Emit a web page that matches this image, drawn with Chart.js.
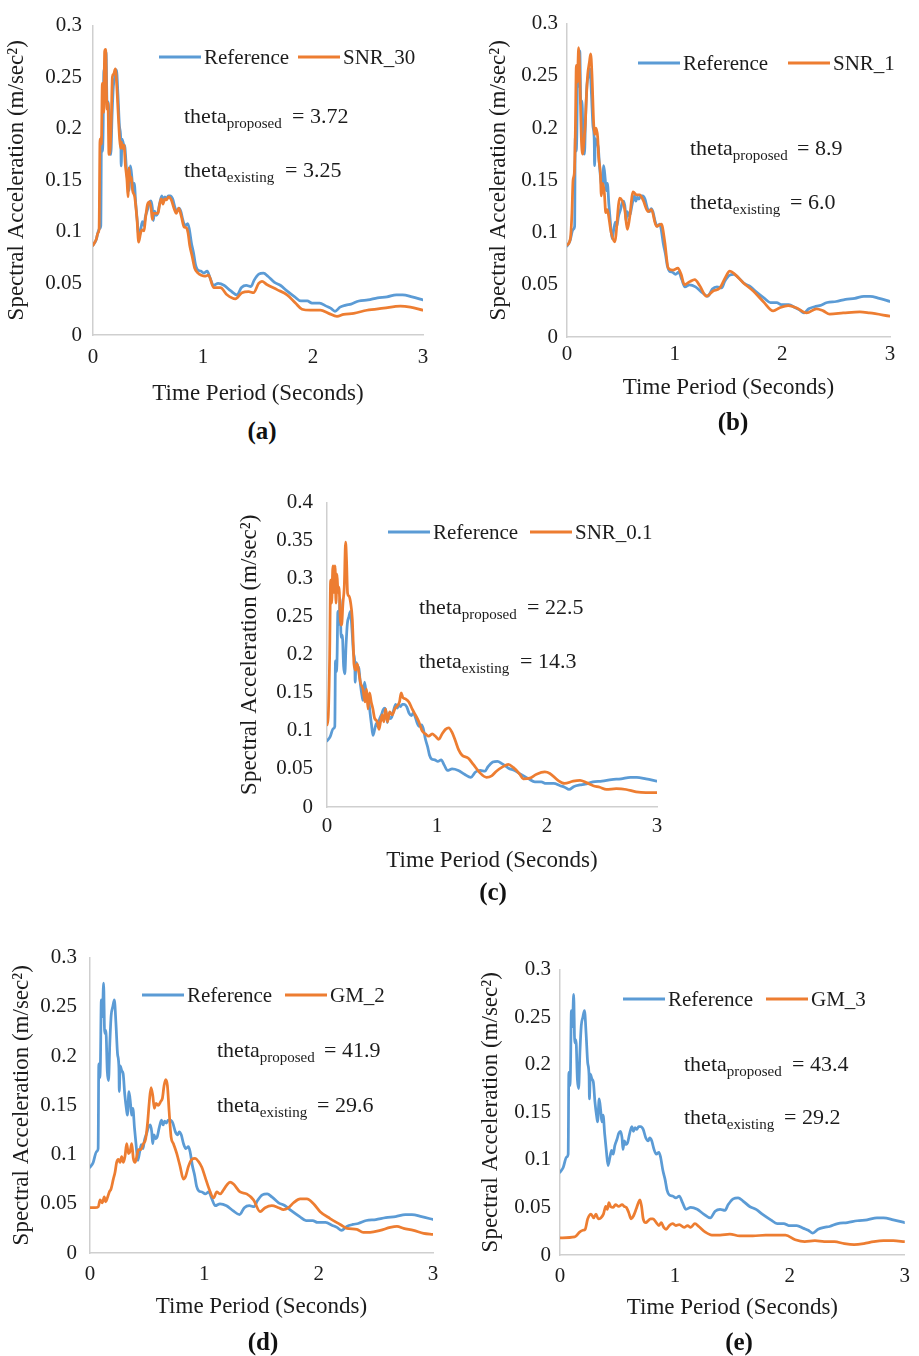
<!DOCTYPE html>
<html>
<head>
<meta charset="utf-8">
<script src="https://cdn.jsdelivr.net/npm/chart.js@4.4.0/dist/chart.umd.min.js"></script>
<style>
   body { margin: 0; background: #fff; width: 919px; height: 1356px; position: relative; overflow: hidden; font-family: 'Liberation Serif', 'Times New Roman', serif; }
   canvas.panel { position: absolute; }
   .caption { position: absolute; font-size: 25px; font-weight: bold; line-height: 30px; color: #111; transform: translateX(-50%); white-space: nowrap; }
</style>
</head>
<body>
<canvas id="chartA" class="panel"></canvas>
<canvas id="chartB" class="panel"></canvas>
<canvas id="chartC" class="panel"></canvas>
<canvas id="chartD" class="panel"></canvas>
<canvas id="chartE" class="panel"></canvas>
<div class="caption" style="left:262px; top:416px;">(a)</div>
<div class="caption" style="left:733px; top:407px;">(b)</div>
<div class="caption" style="left:493px; top:877px;">(c)</div>
<div class="caption" style="left:263px; top:1327px;">(d)</div>
<div class="caption" style="left:739px; top:1327px;">(e)</div>
<script>
// Reference response spectrum (shared by all panels)
const refPeriod = [0, 0.028, 0.057, 0.071, 0.077, 0.085, 0.091, 0.099, 0.108, 0.119, 0.128, 0.139, 0.151, 0.162, 0.173, 0.185, 0.199, 0.213, 0.227, 0.241, 0.253, 0.256, 0.264, 0.278, 0.29, 0.304, 0.321, 0.327, 0.341, 0.355, 0.364, 0.375, 0.389, 0.403, 0.418, 0.435, 0.449, 0.463, 0.477, 0.497, 0.511, 0.526, 0.54, 0.548, 0.56, 0.574, 0.588, 0.605, 0.625, 0.639, 0.653, 0.668, 0.685, 0.702, 0.724, 0.747, 0.767, 0.781, 0.798, 0.818, 0.838, 0.861, 0.875, 0.895, 0.915, 0.932, 0.952, 0.98, 1.008, 1.038, 1.066, 1.095, 1.137, 1.194, 1.25, 1.308, 1.35, 1.393, 1.436, 1.464, 1.507, 1.55, 1.59, 1.65, 1.706, 1.76, 1.834, 1.89, 1.948, 1.99, 2.06, 2.12, 2.16, 2.2, 2.246, 2.3, 2.346, 2.417, 2.5, 2.587, 2.673, 2.758, 2.815, 2.9, 3.0];
const refSA = [0.087, 0.092, 0.103, 0.106, 0.192, 0.178, 0.192, 0.257, 0.24, 0.274, 0.223, 0.226, 0.185, 0.175, 0.212, 0.241, 0.25, 0.257, 0.233, 0.202, 0.188, 0.164, 0.19, 0.185, 0.182, 0.161, 0.144, 0.14, 0.164, 0.151, 0.14, 0.147, 0.127, 0.11, 0.094, 0.103, 0.11, 0.106, 0.115, 0.122, 0.128, 0.13, 0.123, 0.111, 0.12, 0.116, 0.118, 0.127, 0.135, 0.13, 0.134, 0.132, 0.135, 0.135, 0.132, 0.123, 0.12, 0.123, 0.12, 0.111, 0.106, 0.108, 0.103, 0.089, 0.079, 0.068, 0.063, 0.062, 0.06, 0.062, 0.055, 0.048, 0.05, 0.048, 0.043, 0.039, 0.046, 0.048, 0.047, 0.053, 0.059, 0.06, 0.057, 0.051, 0.048, 0.043, 0.037, 0.033, 0.033, 0.031, 0.031, 0.028, 0.026, 0.023, 0.027, 0.029, 0.03, 0.033, 0.034, 0.036, 0.037, 0.039, 0.039, 0.037, 0.034];

// SNR_30
const snr30Period = [0, 0.03, 0.045, 0.055, 0.064, 0.076, 0.085, 0.097, 0.106, 0.115, 0.127, 0.136, 0.145, 0.158, 0.167, 0.176, 0.188, 0.203, 0.215, 0.227, 0.242, 0.252, 0.258, 0.27, 0.282, 0.294, 0.309, 0.318, 0.327, 0.339, 0.348, 0.36, 0.379, 0.4, 0.415, 0.433, 0.448, 0.464, 0.476, 0.494, 0.515, 0.53, 0.539, 0.548, 0.57, 0.591, 0.606, 0.621, 0.636, 0.652, 0.667, 0.688, 0.712, 0.736, 0.758, 0.779, 0.803, 0.827, 0.848, 0.864, 0.879, 0.9, 0.924, 0.955, 0.985, 1.015, 1.05, 1.097, 1.158, 1.218, 1.294, 1.355, 1.415, 1.46, 1.506, 1.536, 1.58, 1.673, 1.764, 1.84, 1.9, 1.976, 2.067, 2.142, 2.218, 2.279, 2.37, 2.49, 2.642, 2.794, 2.885, 3.0];
const snr30SA = [0.087, 0.093, 0.099, 0.102, 0.19, 0.185, 0.244, 0.216, 0.275, 0.277, 0.219, 0.225, 0.175, 0.184, 0.212, 0.25, 0.253, 0.258, 0.244, 0.219, 0.19, 0.181, 0.187, 0.181, 0.184, 0.165, 0.15, 0.134, 0.162, 0.15, 0.153, 0.14, 0.134, 0.112, 0.09, 0.099, 0.102, 0.101, 0.112, 0.126, 0.129, 0.121, 0.112, 0.118, 0.118, 0.118, 0.127, 0.132, 0.127, 0.132, 0.131, 0.134, 0.131, 0.123, 0.118, 0.123, 0.115, 0.105, 0.104, 0.099, 0.087, 0.077, 0.065, 0.06, 0.058, 0.057, 0.058, 0.046, 0.046, 0.039, 0.035, 0.041, 0.042, 0.041, 0.05, 0.052, 0.049, 0.044, 0.039, 0.031, 0.025, 0.024, 0.024, 0.021, 0.018, 0.02, 0.021, 0.024, 0.026, 0.028, 0.027, 0.024];

// SNR_1
const snr1Period = [0, 0.031, 0.046, 0.056, 0.068, 0.077, 0.087, 0.096, 0.108, 0.124, 0.133, 0.146, 0.158, 0.17, 0.18, 0.192, 0.208, 0.22, 0.232, 0.248, 0.257, 0.27, 0.285, 0.294, 0.31, 0.319, 0.332, 0.347, 0.36, 0.372, 0.41, 0.443, 0.49, 0.536, 0.56, 0.58, 0.614, 0.645, 0.675, 0.707, 0.753, 0.784, 0.83, 0.877, 0.908, 0.94, 0.985, 1.03, 1.06, 1.09, 1.14, 1.187, 1.233, 1.295, 1.357, 1.42, 1.466, 1.512, 1.56, 1.636, 1.73, 1.822, 1.915, 1.977, 2.055, 2.13, 2.225, 2.318, 2.38, 2.44, 2.566, 2.72, 2.81, 3.0];
const snr1SA = [0.088, 0.094, 0.119, 0.15, 0.157, 0.194, 0.26, 0.244, 0.277, 0.229, 0.191, 0.175, 0.188, 0.204, 0.229, 0.251, 0.263, 0.271, 0.251, 0.204, 0.194, 0.2, 0.191, 0.172, 0.157, 0.135, 0.147, 0.138, 0.119, 0.122, 0.1, 0.091, 0.133, 0.122, 0.103, 0.113, 0.139, 0.136, 0.136, 0.131, 0.12, 0.122, 0.106, 0.108, 0.091, 0.066, 0.064, 0.066, 0.06, 0.05, 0.053, 0.055, 0.049, 0.039, 0.044, 0.047, 0.056, 0.063, 0.06, 0.052, 0.044, 0.034, 0.025, 0.028, 0.03, 0.028, 0.023, 0.027, 0.025, 0.022, 0.023, 0.024, 0.023, 0.02];

// SNR_0.1
const snr01Period = [0, 0.012, 0.024, 0.033, 0.042, 0.054, 0.064, 0.073, 0.082, 0.091, 0.1, 0.109, 0.121, 0.133, 0.145, 0.157, 0.169, 0.178, 0.187, 0.2, 0.215, 0.23, 0.239, 0.245, 0.26, 0.275, 0.29, 0.305, 0.327, 0.345, 0.36, 0.372, 0.387, 0.402, 0.417, 0.432, 0.457, 0.472, 0.487, 0.502, 0.517, 0.532, 0.55, 0.569, 0.593, 0.617, 0.638, 0.659, 0.674, 0.689, 0.714, 0.744, 0.774, 0.804, 0.835, 0.865, 0.895, 0.925, 0.956, 0.986, 1.016, 1.046, 1.077, 1.107, 1.137, 1.167, 1.197, 1.228, 1.285, 1.33, 1.39, 1.45, 1.497, 1.54, 1.6, 1.648, 1.693, 1.754, 1.784, 1.845, 1.905, 1.98, 2.026, 2.1, 2.16, 2.238, 2.3, 2.358, 2.42, 2.48, 2.54, 2.63, 2.72, 2.81, 2.9, 3.0];
const snr01SA = [0.108, 0.121, 0.197, 0.298, 0.268, 0.317, 0.282, 0.317, 0.268, 0.306, 0.282, 0.289, 0.247, 0.239, 0.268, 0.289, 0.348, 0.323, 0.281, 0.277, 0.268, 0.247, 0.213, 0.188, 0.18, 0.188, 0.176, 0.163, 0.155, 0.138, 0.155, 0.129, 0.15, 0.138, 0.129, 0.117, 0.112, 0.102, 0.112, 0.121, 0.112, 0.129, 0.112, 0.125, 0.121, 0.129, 0.133, 0.138, 0.15, 0.144, 0.142, 0.138, 0.129, 0.121, 0.112, 0.1, 0.096, 0.093, 0.096, 0.093, 0.089, 0.096, 0.102, 0.104, 0.098, 0.087, 0.075, 0.068, 0.064, 0.056, 0.045, 0.039, 0.041, 0.047, 0.053, 0.056, 0.052, 0.043, 0.037, 0.038, 0.043, 0.046, 0.044, 0.035, 0.031, 0.034, 0.035, 0.032, 0.028, 0.026, 0.023, 0.024, 0.023, 0.02, 0.019, 0.019];

// GM_2
const gm2Period = [0, 0.044, 0.073, 0.088, 0.108, 0.125, 0.137, 0.152, 0.169, 0.184, 0.204, 0.219, 0.233, 0.248, 0.263, 0.277, 0.292, 0.306, 0.321, 0.336, 0.35, 0.365, 0.379, 0.394, 0.409, 0.423, 0.444, 0.467, 0.487, 0.505, 0.519, 0.534, 0.549, 0.563, 0.578, 0.598, 0.619, 0.633, 0.648, 0.662, 0.677, 0.692, 0.709, 0.73, 0.759, 0.788, 0.817, 0.837, 0.861, 0.89, 0.919, 0.948, 0.978, 1.007, 1.042, 1.08, 1.109, 1.138, 1.167, 1.196, 1.225, 1.255, 1.313, 1.37, 1.43, 1.488, 1.532, 1.59, 1.649, 1.692, 1.736, 1.78, 1.838, 1.897, 1.955, 2.013, 2.1, 2.188, 2.247, 2.334, 2.39, 2.45, 2.539, 2.626, 2.685, 2.743, 2.83, 2.918, 3.0];
const gm2SA = [0.046, 0.046, 0.047, 0.054, 0.051, 0.057, 0.052, 0.056, 0.062, 0.065, 0.075, 0.082, 0.092, 0.095, 0.092, 0.098, 0.092, 0.098, 0.111, 0.101, 0.103, 0.111, 0.096, 0.092, 0.098, 0.105, 0.105, 0.111, 0.116, 0.134, 0.154, 0.168, 0.16, 0.147, 0.152, 0.15, 0.154, 0.157, 0.17, 0.176, 0.17, 0.144, 0.118, 0.111, 0.101, 0.088, 0.075, 0.078, 0.088, 0.095, 0.096, 0.093, 0.087, 0.077, 0.065, 0.056, 0.062, 0.06, 0.064, 0.069, 0.072, 0.07, 0.062, 0.06, 0.054, 0.042, 0.046, 0.048, 0.046, 0.044, 0.046, 0.051, 0.055, 0.055, 0.05, 0.042, 0.035, 0.029, 0.025, 0.024, 0.021, 0.021, 0.023, 0.026, 0.027, 0.025, 0.023, 0.02, 0.019];

// GM_3
const gm3Period = [0, 0.128, 0.17, 0.199, 0.219, 0.241, 0.27, 0.293, 0.313, 0.332, 0.355, 0.378, 0.398, 0.412, 0.426, 0.44, 0.463, 0.483, 0.511, 0.54, 0.56, 0.577, 0.597, 0.619, 0.639, 0.662, 0.682, 0.696, 0.71, 0.724, 0.747, 0.767, 0.787, 0.81, 0.838, 0.861, 0.881, 0.903, 0.923, 0.952, 0.98, 1.008, 1.038, 1.08, 1.11, 1.137, 1.174, 1.208, 1.265, 1.322, 1.393, 1.478, 1.564, 1.678, 1.79, 1.877, 1.962, 2.047, 2.13, 2.218, 2.3, 2.388, 2.474, 2.559, 2.644, 2.73, 2.815, 2.9, 3.0];
const gm3SA = [0.018, 0.019, 0.024, 0.026, 0.027, 0.038, 0.043, 0.039, 0.043, 0.038, 0.039, 0.043, 0.051, 0.048, 0.055, 0.051, 0.05, 0.053, 0.051, 0.053, 0.051, 0.05, 0.045, 0.038, 0.041, 0.048, 0.055, 0.058, 0.051, 0.038, 0.034, 0.036, 0.038, 0.038, 0.034, 0.031, 0.034, 0.029, 0.027, 0.031, 0.033, 0.031, 0.032, 0.029, 0.031, 0.029, 0.033, 0.03, 0.024, 0.021, 0.021, 0.022, 0.02, 0.02, 0.021, 0.021, 0.021, 0.016, 0.014, 0.015, 0.014, 0.014, 0.012, 0.011, 0.012, 0.014, 0.015, 0.015, 0.014];

const seriesNames = ['SNR_30', 'SNR_1', 'SNR_0.1', 'GM_2', 'GM_3'];
const seriesPeriods = [snr30Period, snr1Period, snr01Period, gm2Period, gm3Period];
const seriesSA = [snr30SA, snr1SA, snr01SA, gm2SA, gm3SA];
const yMaxima = [0.3, 0.3, 0.4, 0.3, 0.3];
const xTicks = [0, 1, 2, 3];
const thetaProposed = ['3.72', '8.9', '22.5', '41.9', '43.4'];
const thetaExisting = ['3.25', '6.0', '14.3', '29.6', '29.2'];

const BLUE = '#5b9bd5';
const ORANGE = '#ed7d31';
const AXIS = '#cfcfcf';
const INK = '#1c1c1c';
const SERIF = "'Liberation Serif', 'Times New Roman', serif";
const X_AXIS_H = 75;

// Page layout of every panel: canvas box, plot area, legend and text rows
const layouts = [
   { id: 'chartA', box: [0, 2, 450], area: [93, 17, 423, 335], yPad: 11, xPad: 10, xTitlePad: 2,
     legend: [159, 57, 139], rows: [[184, 123, 292], [184, 177, 285]] },
   { id: 'chartB', box: [482, 2, 437], area: [567, 17, 890, 337], yPad: 9, xPad: 5, xTitlePad: 10,
     legend: [638, 63, 150], rows: [[690, 155, 797], [690, 209, 790]] },
   { id: 'chartC', box: [233, 476, 460], area: [327, 491, 657, 807], yPad: 14, xPad: 7, xTitlePad: 7,
     legend: [388, 532, 142], rows: [[419, 614, 527], [419, 668, 520]] },
   { id: 'chartD', box: [5, 932, 450], area: [90, 947, 433, 1253], yPad: 13, xPad: 9, xTitlePad: 7,
     legend: [142, 995, 143], rows: [[217, 1057, 324], [217, 1112, 317]] },
   { id: 'chartE', box: [474, 948, 445], area: [560, 963, 912, 1255], yPad: 9, xPad: 9, xTitlePad: 8,
     legend: [623, 999, 143], rows: [[684, 1071, 792], [684, 1124, 784]] }
];

function toPoints(xs, ys) {
   return xs.map((x, i) => ({ x: x, y: ys[i] }));
}

// Draws the in-plot legend and the theta annotations
const panelText = {
   id: 'panelText',
   afterDraw(chart, args, opts) {
      const ctx = chart.ctx;
      const [lx, ly, gap] = opts.legend;
      ctx.save();
      ctx.textBaseline = 'alphabetic';
      ctx.fillStyle = INK;
      chart.data.datasets.forEach((ds, i) => {
         const x = lx + i * gap;
         ctx.strokeStyle = ds.borderColor;
         ctx.lineWidth = 3;
         ctx.beginPath();
         ctx.moveTo(x, ly);
         ctx.lineTo(x + 42, ly);
         ctx.stroke();
         ctx.font = '21px ' + SERIF;
         ctx.fillText(ds.label, x + 45, ly + 7);
      });
      opts.rows.forEach(([x, y, vx], i) => {
         ctx.font = '22px ' + SERIF;
         ctx.fillText('theta', x, y);
         const w = ctx.measureText('theta').width;
         ctx.font = '15px ' + SERIF;
         ctx.fillText(i === 0 ? 'proposed' : 'existing', x + w, y + 5);
         ctx.font = '22px ' + SERIF;
         ctx.fillText('= ' + opts.values[i], vx, y);
      });
      ctx.restore();
   }
};

layouts.forEach((lay, k) => {
   const canvas = document.getElementById(lay.id);
   const [bx, by, bw] = lay.box;
   const [al, at, ar, ab] = lay.area;
   const bh = ab - by + X_AXIS_H + 2;
   canvas.width = bw;
   canvas.height = bh;
   canvas.style.left = bx + 'px';
   canvas.style.top = by + 'px';

   const yWidth = al - bx;
   const shift = ([x, y, z]) => [x - bx, y - by, z];
   const rows = lay.rows.map(([x, y, vx]) => [x - bx, y - by, vx - bx]);

   new Chart(canvas, {
      type: 'line',
      data: {
         datasets: [
            {
               label: 'Reference',
               data: toPoints(refPeriod, refSA),
               borderColor: BLUE,
               backgroundColor: BLUE,
               borderWidth: 2.75,
               borderJoinStyle: 'round',
               borderCapStyle: 'round',
               pointRadius: 0,
               cubicInterpolationMode: 'monotone',
               order: 2
            },
            {
               label: seriesNames[k],
               data: toPoints(seriesPeriods[k], seriesSA[k]),
               borderColor: ORANGE,
               backgroundColor: ORANGE,
               borderWidth: 2.75,
               borderJoinStyle: 'round',
               borderCapStyle: 'round',
               pointRadius: 0,
               cubicInterpolationMode: 'monotone',
               order: 1
            }
         ]
      },
      options: {
         responsive: false,
         animation: false,
         events: [],
         layout: {
            padding: { left: 0, top: at - by, right: bx + bw - ar, bottom: bh - (ab - by) - X_AXIS_H }
         },
         plugins: {
            legend: { display: false },
            tooltip: { enabled: false },
            panelText: { legend: shift(lay.legend), rows: rows, values: [thetaProposed[k], thetaExisting[k]] }
         },
         scales: {
            x: {
               type: 'linear',
               min: 0,
               max: 3,
               afterBuildTicks: s => { s.ticks = xTicks.map(v => ({ value: v })); },
               afterFit: s => { s.height = X_AXIS_H; },
               grid: { display: false, drawTicks: false },
               border: { display: true, color: AXIS, width: 1.5 },
               ticks: { padding: lay.xPad, color: INK, font: { family: SERIF, size: 21 }, maxRotation: 0 },
               title: { display: true, text: 'Time Period (Seconds)', color: INK, font: { family: SERIF, size: 23 }, padding: { top: 0, bottom: lay.xTitlePad } }
            },
            y: {
               min: 0,
               max: yMaxima[k],
               afterFit: s => { s.width = yWidth; },
               grid: { display: false, drawTicks: false },
               border: { display: true, color: AXIS, width: 1.5 },
               ticks: {
                  stepSize: 0.05,
                  padding: lay.yPad,
                  color: INK,
                  font: { family: SERIF, size: 21 },
                  callback: v => String(+v.toFixed(2))
               },
               title: { display: true, text: 'Spectral Acceleration (m/sec²)', color: INK, font: { family: SERIF, size: 23 }, padding: { top: 3, bottom: 0 } }
            }
         }
      },
      plugins: [panelText]
   });
});
</script>
</body>
</html>
